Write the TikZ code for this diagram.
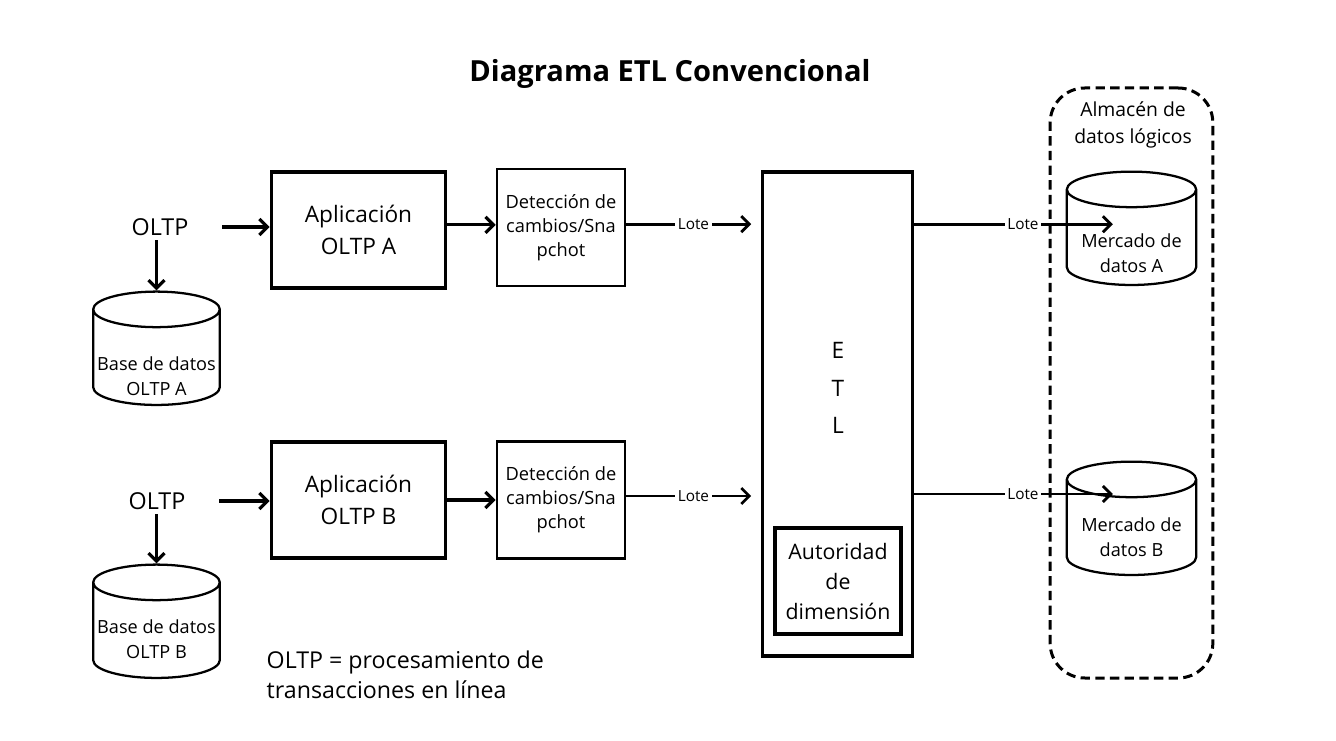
\documentclass[tikz,border=0pt]{standalone}
\usepackage{fontspec}
\setmainfont{Open Sans}
\usetikzlibrary{arrows.meta,shapes.geometric}
\tikzset{
  flecha/.style={line width=2.4pt,-{Straight Barb[length=6pt,width=12pt]}},
  lote/.style={line width=2.1pt,-{Straight Barb[length=6pt,width=12pt]}},
  app/.style={draw,line width=2.4pt,minimum width=131pt,minimum height=87pt,align=center,font=\fontsize{17}{24}\selectfont},
  deteccion/.style={draw,line width=1.9pt,minimum width=96pt,minimum height=88pt,align=center,font=\fontsize{13.7}{18}\selectfont},
  base/.style={draw,line width=1.7pt,cylinder,shape border rotate=90,aspect=4,minimum width=95pt,minimum height=85pt},
  cyltxt/.style={align=center,font=\fontsize{13.6}{19}\selectfont},
  etiqueta/.style={fill=white,inner sep=2pt,font=\fontsize{11.5}{12}\selectfont}
}
\begin{document}
\begin{tikzpicture}[x=0.75pt,y=-0.75pt]
  \useasboundingbox (0,0) rectangle (1336,741);
  \node[font=\bfseries\fontsize{21.8}{26}\selectfont] (titulo) at (670,74) {Diagrama ETL Convencional};

  % fila A
  \node[font=\fontsize{17.5}{20}\selectfont] (oltpA) at (160,227) {OLTP};
  \node[base] (dbA) at (156.5,361) {};
  \node[cyltxt] (dbAt) at (156.5,376) {Base de datos\\OLTP A};
  \node[app] (appA) at (358.5,230) {Aplicación\\OLTP A};
  \node[deteccion] (detA) at (561,227.5) {Detección de\\cambios/Sna\\pchot};

  % fila B
  \node[font=\fontsize{17.5}{20}\selectfont] (oltpB) at (157,501) {OLTP};
  \node[base] (dbB) at (156.5,634) {};
  \node[cyltxt] (dbBt) at (156.5,639) {Base de datos\\OLTP B};
  \node[app] (appB) at (358.5,500) {Aplicación\\OLTP B};
  \node[deteccion] (detB) at (561,500) {Detección de\\cambios/Sna\\pchot};

  % ETL
  \node[draw,line width=2.4pt,minimum width=113pt,minimum height=363pt] (etl) at (837.5,414) {};
  \node[align=center,font=\fontsize{17}{28}\selectfont] (etlt) at (838,388) {E\\T\\L};
  \node[draw,line width=2.4pt,minimum width=94.5pt,minimum height=79.5pt,align=center,
    font=\fontsize{16}{22.5}\selectfont] (aut) at (838,581) {Autoridad\\de\\dimensión};

  % almacen
  \node[draw,dashed,dash pattern=on 7pt off 4pt,line width=2.25pt,rounded corners=26pt,
    minimum width=122pt,minimum height=442.5pt] (alm) at (1131.5,383) {};
  \node[align=center,font=\fontsize{14.5}{20}\selectfont] (almt) at (1133,125) {Almacén de\\datos lógicos};
  \node[base,minimum width=97pt] (martA) at (1131.5,241) {};
  \node[cyltxt] (martAt) at (1131.5,253) {Mercado de\\datos A};
  \node[base,minimum width=97pt] (martB) at (1131.5,531) {};
  \node[cyltxt] (martBt) at (1131.5,537) {Mercado de\\datos B};

  \node[align=left,anchor=north west,font=\fontsize{17.4}{22.5}\selectfont] (nota) at (262,646)
    {OLTP = procesamiento de\\transacciones en línea};

  % conectores
  \draw[flecha,shorten <=22pt] (oltpA.east) -- (oltpA.east -| appA.west);
  \draw[flecha] (dbA.north |- oltpA.south) -- (dbA.north);
  \draw[flecha] ([yshift=2pt]appA.east |- detA.west) -- ([yshift=2pt]detA.west);
  \draw[lote,shorten >=7pt] ([yshift=2.5pt]detA.east) -- ([yshift=2.5pt]detA.east -| etl.west) node[midway,etiqueta] {Lote};
  \draw[flecha,shorten <=22pt] (oltpB.east) -- (oltpB.east -| appB.west);
  \draw[flecha] (dbB.north |- oltpB.south) -- (dbB.north);
  \draw[flecha] (appB.east |- detB.west) -- (detB.west);
  \draw[lote,shorten >=7pt] ([yshift=3pt]detB.east) -- ([yshift=3pt]detB.east -| etl.west) node[midway,etiqueta] {Lote};
  \draw[lote,shorten >=14pt] ([yshift=2.5pt]etl.east |- detA.east) -- ([yshift=2.5pt]detA.east -| martA.center) node[midway,etiqueta] {Lote};
  \draw[lote,shorten >=14pt] ([yshift=4.5pt]etl.east |- detB.east) -- ([yshift=4.5pt]detB.east -| martB.center) node[midway,etiqueta] {Lote};
\end{tikzpicture}
\end{document}
